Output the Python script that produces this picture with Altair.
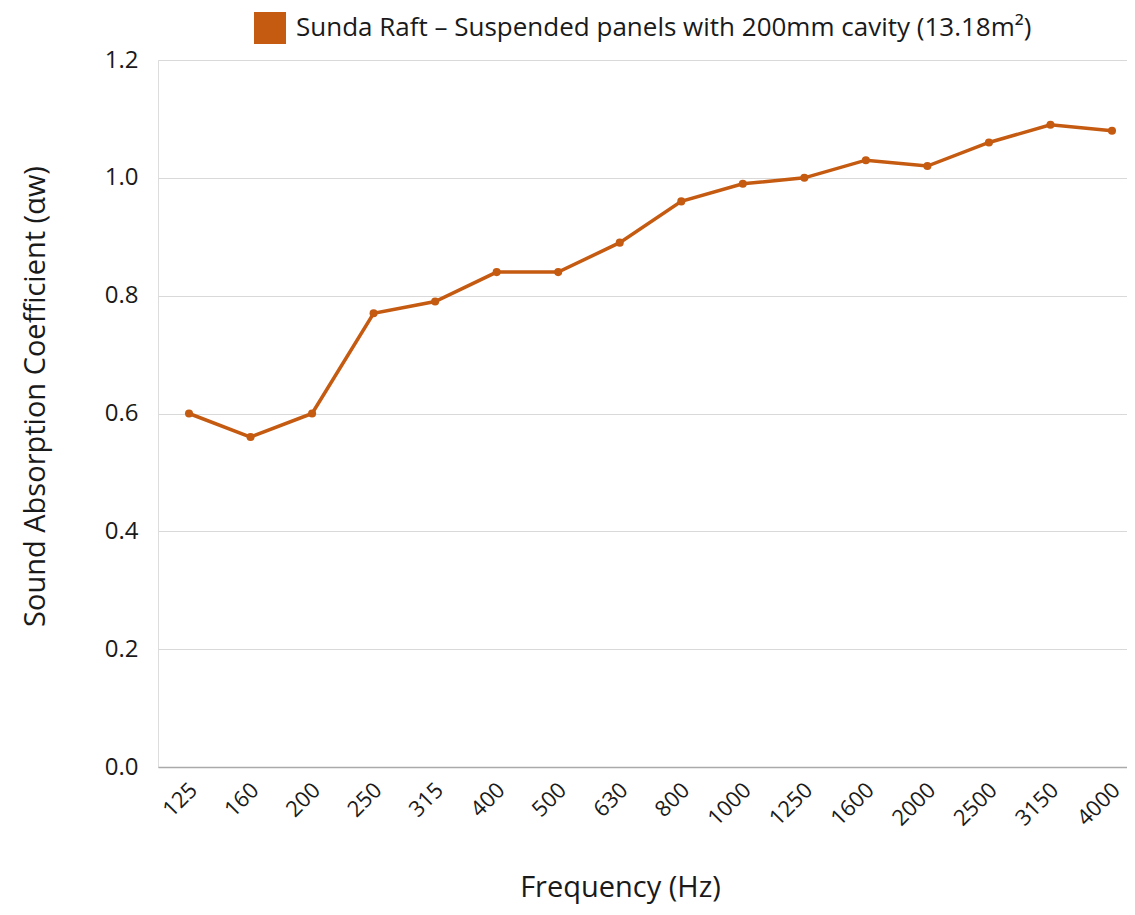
import altair as alt
import pandas as pd

freqs = ["125", "160", "200", "250", "315", "400", "500", "630", "800",
         "1000", "1250", "1600", "2000", "2500", "3150", "4000"]
values = [0.60, 0.56, 0.60, 0.77, 0.79, 0.84, 0.84, 0.89, 0.96,
          0.99, 1.00, 1.03, 1.02, 1.06, 1.09, 1.08]
series_name = "Sunda Raft \u2013 Suspended panels with 200mm cavity (13.18m\u00b2)"
y_ticks = [0.0, 0.2, 0.4, 0.6, 0.8, 1.0, 1.2]

df = pd.DataFrame({"freq": freqs, "value": values, "series": [series_name] * len(freqs)})

FONT = "Open Sans"
COLOR = "#C55A11"
TXT = "#1a1a1a"

x = alt.X("freq:N", sort=freqs, scale=alt.Scale(type="point", padding=0.374, align=0.674),
          axis=alt.Axis(title="Frequency (Hz)", labelAngle=315, labelFontSize=22,
                        labelFont=FONT, labelColor=TXT, labelPadding=12, labelOffset=-3,
                        ticks=False, domain=True, domainColor="#aaaaaa", domainWidth=1.5,
                        grid=False, titleFont=FONT, titleFontSize=29, titleFontWeight="normal",
                        titleColor=TXT, titleX=462, titleY=120, titleBaseline="middle",
                        titleAlign="center"))
y = alt.Y("value:Q", scale=alt.Scale(domain=[0, 1.2], nice=False),
          axis=alt.Axis(title="Sound Absorption Coefficient (\u03b1w)", values=y_ticks,
                        format=".1f", labelFontSize=24, labelFont=FONT, labelColor=TXT,
                        labelPadding=20, ticks=False, domain=False, grid=True,
                        gridColor="#d9d9d9", gridWidth=1, titleFont=FONT, titleFontSize=29,
                        titleFontWeight="normal", titleColor=TXT, titleX=-123, titleY=336,
                        titleAngle=270, titleAlign="center", titleBaseline="middle"))
color = alt.Color("series:N", scale=alt.Scale(domain=[series_name], range=[COLOR]),
                  legend=alt.Legend(title=None, orient="none", legendX=96, legendY=-48,
                                    symbolType="square", symbolSize=1024, symbolStrokeWidth=0,
                                    labelFont=FONT, labelFontSize=26, labelColor=TXT,
                                    labelLimit=1000, labelOffset=10))

line = alt.Chart(df).mark_line(strokeWidth=3.5).encode(x=x, y=y, color=color)
pts = alt.Chart(df).mark_circle(size=65, opacity=1).encode(x=x, y=y, color=color)

chart = alt.layer(line, pts).properties(
    width=969, height=707,
    autosize=alt.AutoSizeParams(type="none"),
    padding={"left": 150, "top": 52, "right": 0, "bottom": 140},
).configure_view(stroke=None).configure(background="white")

chart.save("out.html", embed_options={"renderer": "svg", "actions": False})
